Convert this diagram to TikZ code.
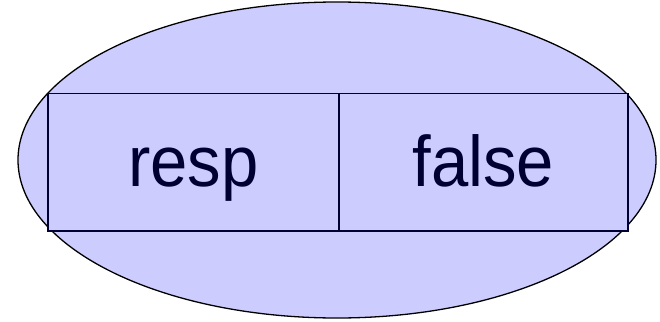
\documentclass[tikz,border=0pt]{standalone}
\usepackage{fontspec}
\setmainfont{Liberation Sans}
\usetikzlibrary{shapes.geometric}
\definecolor{lav}{HTML}{CCCCFF}
\definecolor{navy}{HTML}{000033}
\tikzset{
  outer/.style={ellipse, draw=black, fill=lav, line width=1.3pt, inner sep=0pt,
    minimum width=638pt, minimum height=316pt},
  cell/.style={rectangle, draw=navy, fill=lav, line width=1.3pt, inner sep=0pt,
    text height=92.5pt, text depth=45pt, text=navy,
    font=\fontsize{67}{67}\selectfont}
}
\begin{document}
\begin{tikzpicture}[x=1pt,y=-1pt]
\useasboundingbox (0,0) rectangle (660,321);
\node[outer] (oval) at (337,160) {};
\node[cell, minimum width=291pt] (resp) at (193.5,162.25) {\scalebox{1}[1.07]{resp}};
\node[cell, minimum width=289pt] (false) at (483.5,162.25) {\scalebox{1}[1.07]{false}};
\end{tikzpicture}
\end{document}
